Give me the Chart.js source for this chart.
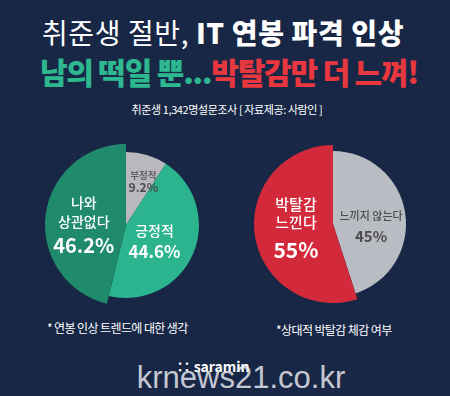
<!DOCTYPE html>
<html>
<head>
<meta charset="utf-8">
<script src="https://cdn.jsdelivr.net/npm/chart.js@4/dist/chart.umd.min.js"></script>
<style>
  html, body { margin: 0; padding: 0; }
  body {
    width: 450px; height: 396px; overflow: hidden; position: relative;
    background: #182746;
    font-family: "Noto Sans CJK KR", "Noto Sans", sans-serif;
    color: #fff;
  }
  .t1, .t2, .t3, .note, .logo, .wm { position: absolute; left: 0; width: 450px; text-align: center; white-space: nowrap; }
  .t1 { top: 14px; left: -2px; font-size: 28px; letter-spacing: 0.6px; line-height: 36px; }
  .t1 .r { font-weight: 400; }
  .t1 .b { font-weight: 900; }
  .t2 { top: 52px; left: 4px; font-size: 30px; font-weight: 900; letter-spacing: -1.2px; line-height: 38px; }
  .t2 .g { color: #2db890; }
  .t2 .red { color: #e8373e; }
  .t3 { top: 101px; left: 2px; font-size: 11px; line-height: 16px; letter-spacing: -0.4px; }
  .note { font-size: 12px; line-height: 16px; width: auto; letter-spacing: -0.6px; }
  .box { position: absolute; width: 180px; height: 180px; }
  .logo { top: 356px; left: -12px; font-size: 14px; font-weight: 700; }
  .wm { top: 360px; left: 16px; font-family: "Liberation Sans", sans-serif; font-size: 31px; color: rgba(230,230,235,0.85); }
</style>
</head>
<body>
<div class="t1"><span class="r">취준생 절반,</span> <span class="b">IT 연봉 파격 인상</span></div>
<div class="t2"><span class="g">남의 떡일 뿐...</span><span class="red">박탈감만 더 느껴!</span></div>
<div class="t3">취준생 1,342명설문조사 [ 자료제공: 사람인 ]</div>

<div class="box" style="left:36px; top:135px;"><canvas id="pieLeft" width="180" height="180"></canvas></div>
<div class="box" style="left:243px; top:134px;"><canvas id="pieRight" width="180" height="180"></canvas></div>

<div class="note" style="left:47px; top:320px;">* 연봉 인상 트렌드에 대한 생각</div>
<div class="note" style="left:276px; top:322px;">*상대적 박탈감 체감 여부</div>

<div class="logo">∷ saramin</div>
<div class="wm">krnews21.co.kr</div>

<script>
// 연봉 인상 트렌드에 대한 생각
const leftCategories = ['부정적', '긍정적', '나와 상관없다'];
const leftValues = [9.2, 44.6, 46.2];
const leftLabels = [['부정적', '9.2%'], ['긍정적', '44.6%'], ['나와', '상관없다', '46.2%']];

// 상대적 박탈감 체감 여부
const rightCategories = ['느끼지 않는다', '박탈감 느낀다'];
const rightValues = [45, 55];
const rightLabels = [['느끼지 않는다', '45%'], ['박탈감', '느낀다', '55%']];

const FONT = '"Noto Sans CJK KR", "Noto Sans", sans-serif';

// enlarge some slices and write the text in each slice
const sliceText = {
    id: 'sliceText',
    beforeDatasetsDraw(chart) {
        const ds = chart.data.datasets[0];
        const meta = chart.getDatasetMeta(0);
        meta.data.forEach((arc, i) => {
            if (arc._base === undefined) arc._base = arc.outerRadius;
            arc.outerRadius = arc._base + (ds.grow[i] || 0);
        });
    },
    afterDatasetsDraw(chart) {
        const ds = chart.data.datasets[0];
        const meta = chart.getDatasetMeta(0);
        const ctx = chart.ctx;
        ctx.save();
        ctx.textAlign = 'center';
        ctx.textBaseline = 'middle';
        meta.data.forEach((arc, i) => {
            const c = arc.getCenterPoint();
            const lines = ds.texts[i];
            const st = ds.textStyle[i];
            let y = c.y + st.dy - (st.h * (lines.length - 1)) / 2;
            lines.forEach((line, k) => {
                const last = k === lines.length - 1;
                ctx.fillStyle = st.color;
                ctx.font = last ? st.bigFont : st.font;
                ctx.fillText(line, c.x + st.dx, y + (last ? st.gap : 0));
                y += st.h;
            });
        });
        ctx.restore();
    }
};

function makePie(id, categories, values, colors, texts, grow, textStyle) {
    return new Chart(document.getElementById(id), {
        type: 'pie',
        data: {
            labels: categories,
            datasets: [{
                data: values,
                backgroundColor: colors,
                borderWidth: 0,
                radius: 73,
                texts: texts,
                grow: grow,
                textStyle: textStyle
            }]
        },
        options: {
            responsive: false,
            animation: false,
            events: [],
            layout: { padding: 0 },
            plugins: { legend: { display: false }, tooltip: { enabled: false } }
        },
        plugins: [sliceText]
    });
}

makePie('pieLeft', leftCategories, leftValues,
    ['#b9b9bd', '#2bb48d', '#1f8b6c'],
    leftLabels,
    [0, 0, 8],
    [
        { color: '#4b4b50', font: '500 9.5px ' + FONT, bigFont: '700 12px ' + FONT, h: 12, dx: 7, dy: -9, gap: 0 },
        { color: '#ffffff', font: '500 14px ' + FONT, bigFont: '700 17px ' + FONT, h: 21, dx: -5, dy: 2, gap: 0 },
        { color: '#ffffff', font: '500 14px ' + FONT, bigFont: '700 20px ' + FONT, h: 19, dx: -2, dy: 2, gap: 4 }
    ]);

makePie('pieRight', rightCategories, rightValues,
    ['#b9bcc2', '#d22a3a'],
    rightLabels,
    [0, 6],
    [
        { color: '#4b4b50', font: '500 11px ' + FONT, bigFont: '700 15px ' + FONT, h: 20, dx: 2, dy: 8, gap: 0 },
        { color: '#ffffff', font: '500 15px ' + FONT, bigFont: '700 21px ' + FONT, h: 18, dx: 2, dy: -8, gap: 10 }
    ]);
</script>
</body>
</html>
